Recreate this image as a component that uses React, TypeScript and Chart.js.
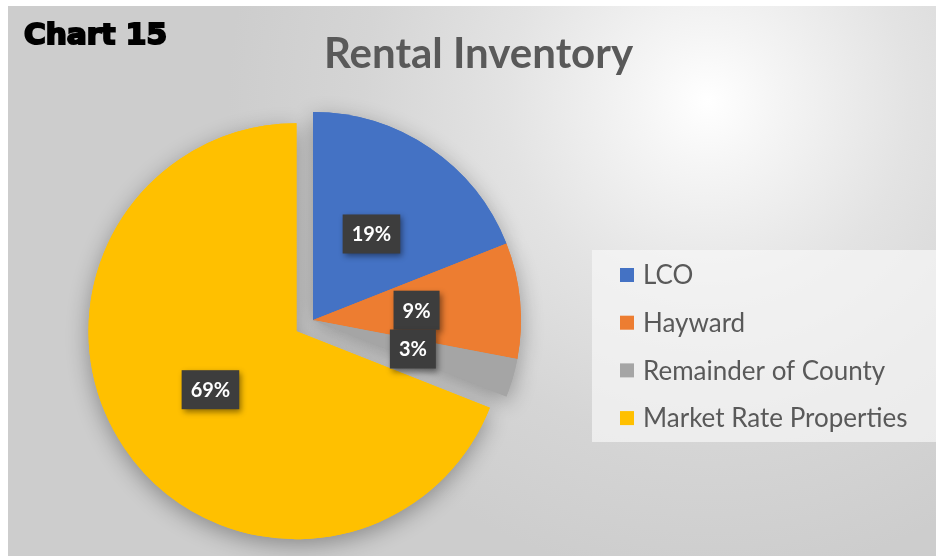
import React, { useEffect, useRef } from "react";
import { Chart, registerables } from "chart.js";

Chart.register(...registerables);

// ---- data ----
const categories = ["LCO", "Hayward", "Remainder of County", "Market Rate Properties"];
const shares = [19, 9, 3, 69];
const sliceColors = ["#4472C4", "#ED7D31", "#A5A5A5", "#FFC000"];
const sliceExplode = [0, 0, 0, 20];
const chartNumberLabel = "Chart 15";
const chartTitle = "Rental Inventory";

const TEXT_GRAY = "#595959";
const W = 928;
const H = 550;

// Excel-like point explosion: move exploded slices along their mid angle
const explodePlugin = {
  id: "explode",
  afterDatasetUpdate(chart: any, args: any) {
    const meta = args.meta;
    const ca = chart.chartArea;
    const cx = (ca.left + ca.right) / 2;
    const cy = (ca.top + ca.bottom) / 2;
    meta.data.forEach((arc: any, i: number) => {
      const d = sliceExplode[i] || 0;
      const half = (arc.startAngle + arc.endAngle) / 2;
      arc.x = cx + Math.cos(half) * d;
      arc.y = cy + Math.sin(half) * d;
    });
  },
};

const shadowPlugin = {
  id: "pieShadow",
  beforeDatasetsDraw(chart: any) {
    const ctx = chart.ctx;
    const meta = chart.getDatasetMeta(0);
    ctx.save();
    ctx.shadowColor = "rgba(0,0,0,0.32)";
    ctx.shadowBlur = 22;
    ctx.shadowOffsetX = 0;
    ctx.shadowOffsetY = 6;
    meta.data.forEach((a: any) => a.draw(ctx));
    ctx.restore();
  },
};

const dataLabelPlugin = {
  id: "pctLabels",
  afterDatasetsDraw(chart: any) {
    const ctx = chart.ctx;
    const meta = chart.getDatasetMeta(0);
    const data = chart.data.datasets[0].data as number[];
    const total = data.reduce((s, v) => s + v, 0);
    meta.data.forEach((arc: any, i: number) => {
      const c = arc.getCenterPoint();
      const x = c.x;
      const y = c.y;
      const text = Math.round((data[i] / total) * 100) + "%";
      ctx.save();
      ctx.font = "bold 20px Lato";
      const w = ctx.measureText(text).width + 18;
      const h = 39;
      ctx.shadowColor = "rgba(0,0,0,0.45)";
      ctx.shadowBlur = 6;
      ctx.shadowOffsetX = 2;
      ctx.shadowOffsetY = 3;
      ctx.fillStyle = "#3d3d3d";
      ctx.fillRect(x - w / 2, y - h / 2, w, h);
      ctx.shadowColor = "transparent";
      ctx.fillStyle = "#ffffff";
      ctx.textAlign = "center";
      ctx.textBaseline = "middle";
      ctx.fillText(text, x, y + 1);
      ctx.restore();
    });
  },
};

const decorPlugin = {
  id: "decor",
  afterDraw(chart: any) {
    const ctx = chart.ctx;
    const ds = chart.data.datasets[0];
    const labels = chart.data.labels as string[];
    ctx.save();
    // title
    ctx.font = "bold 42px Lato";
    ctx.fillStyle = TEXT_GRAY;
    ctx.textAlign = "center";
    ctx.textBaseline = "alphabetic";
    ctx.fillText(chartTitle, 470.5, 62);

    // chart number label
    ctx.font = "bold 28px 'DejaVu Sans'";
    ctx.textAlign = "left";
    const tw = ctx.measureText(chartNumberLabel).width;
    const sx = 143 / tw;
    ctx.save();
    ctx.translate(16, 38);
    ctx.scale(sx, 1);
    ctx.fillStyle = "#000";
    ctx.strokeStyle = "#000";
    ctx.lineWidth = 2;
    ctx.lineJoin = "miter";
    ctx.strokeText(chartNumberLabel, 0, 0);
    ctx.fillText(chartNumberLabel, 0, 0);
    ctx.restore();

    // legend
    ctx.fillStyle = "rgba(246,246,246,0.7)";
    ctx.fillRect(584, 244, 344, 192);
    ctx.font = "26px Lato";
    ctx.textBaseline = "middle";
    labels.forEach((lab, i) => {
      const cy = 269 + i * 47.7;
      ctx.fillStyle = ds.backgroundColor[i];
      ctx.fillRect(612, cy - 7, 14, 14);
      ctx.fillStyle = TEXT_GRAY;
      ctx.fillText(lab, 635, cy + 1);
    });
    ctx.restore();
  },
};

export default function App() {
  const ref = useRef<HTMLCanvasElement>(null);
  useEffect(() => {
    if (!ref.current) return;
    const chart = new Chart(ref.current, {
      type: "pie",
      data: {
        labels: categories,
        datasets: [
          {
            data: shares,
            backgroundColor: sliceColors,
            borderWidth: 0,
            hoverOffset: 0,
          },
        ],
      },
      options: {
        responsive: false,
        animation: false,
        devicePixelRatio: 1,
        radius: 208,
        layout: { padding: { left: 0, right: 318, top: 78, bottom: 0 } },
        plugins: {
          legend: { display: false },
          title: { display: false },
          tooltip: { enabled: false },
        },
        events: [],
      } as any,
      plugins: [explodePlugin, shadowPlugin, dataLabelPlugin, decorPlugin],
    });
    return () => chart.destroy();
  }, []);

  return (
    <div
      style={{
        position: "absolute",
        left: 8,
        top: 6,
        width: W,
        height: H,
        background:
          "radial-gradient(circle 480px at 700px 95px, #ffffff 0%, #f5f5f5 14%, #e3e3e3 42%, #d5d5d5 72%, #cdcdcd 100%)",
      }}
    >
      <canvas ref={ref} width={W} height={H} style={{ display: "block" }} />
    </div>
  );
}
